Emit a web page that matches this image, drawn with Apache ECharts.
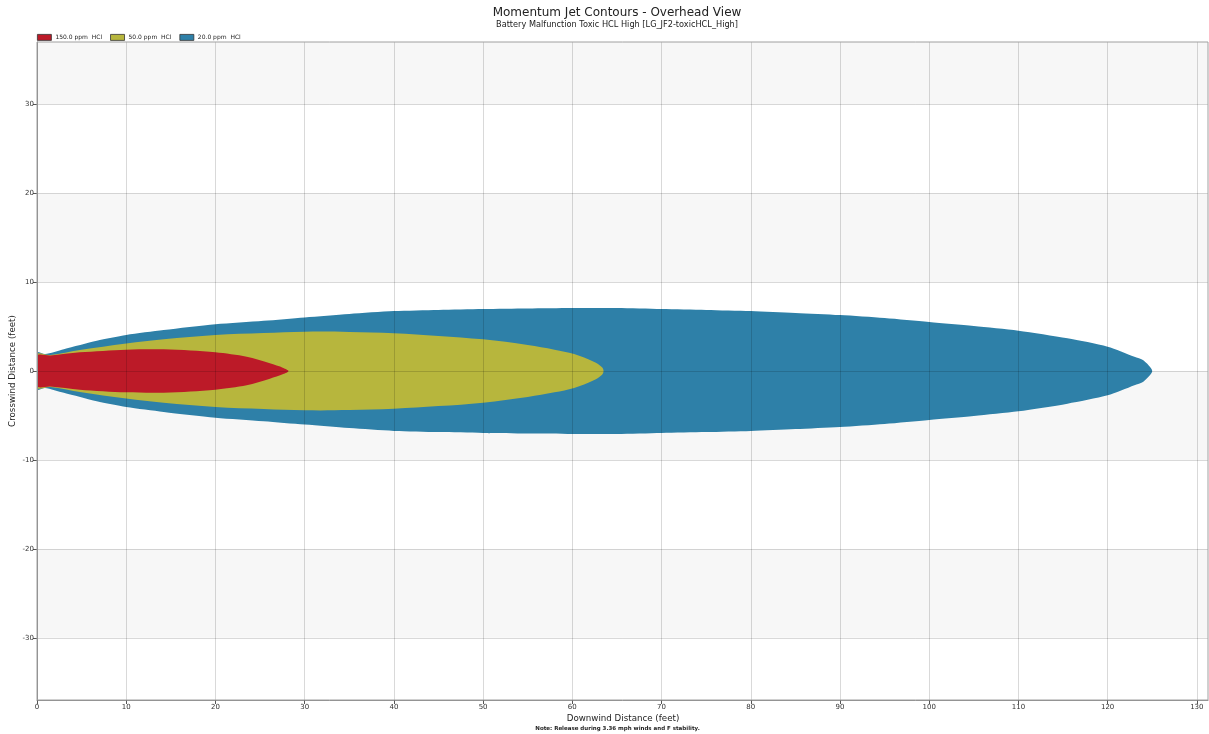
<!DOCTYPE html>
<html>
<head>
<meta charset="utf-8">
<script src="https://cdn.jsdelivr.net/npm/echarts@6/dist/echarts.min.js"></script>
<style>html,body{margin:0;padding:0;background:#fff;}#c{width:1209px;height:734px;}</style>
</head>
<body>
<div id="c"></div>
<script>
// ---- data (half-widths of each contour above the centreline, feet) ----
var seriesNames = ['150.0 ppm  HCl', '50.0 ppm  HCl', '20.0 ppm  HCl'];

var redX = [0, 1.5, 4.8, 10, 14.2, 17.2, 20, 23.5, 26.1, 27.6, 28.2];
var redY = [1.7, 1.75, 2.1, 2.4, 2.44, 2.3, 2.1, 1.6, 0.86, 0.35, 0];

var yellowX = [0, 1.5, 4.8, 10, 14.2, 20, 25.4, 30, 35, 40, 45, 50, 55, 58, 60.2, 62.4, 63.3, 63.5];
var yellowY = [1.87, 1.8, 2.36, 3.1, 3.56, 4.04, 4.27, 4.42, 4.4, 4.25, 3.95, 3.56, 2.92, 2.4, 1.91, 1.05, 0.45, 0];

var blueX = [0, 0.9, 3, 6.7, 10, 14.2, 20, 25.4, 30, 35, 40, 45, 50, 55, 60, 65, 70, 75, 80, 85, 90, 95, 100, 105, 110, 115.5, 120, 123, 124, 125];
var blueY = [2.1, 1.9, 2.45, 3.4, 4.05, 4.6, 5.25, 5.65, 6.03, 6.42, 6.74, 6.87, 6.97, 7.03, 7.08, 7.08, 6.97, 6.87, 6.74, 6.53, 6.29, 5.95, 5.5, 5.05, 4.53, 3.67, 2.73, 1.6, 1.2, 0];

var xTickLabels = [0, 10, 20, 30, 40, 50, 60, 70, 80, 90, 100, 110, 120, 130];
var yTickLabels = [-30, -20, -10, 0, 10, 20, 30];
var bandEdges = [-37, -30, -20, -10, 0, 10, 20, 30, 37];

var colors = {red: '#BC1A28', yellow: '#B7B63D', blue: '#2E80A8'};
var X_MAX = 131.25, Y_MIN = -37, Y_MAX = 37;
var FONT = 'DejaVu Sans';

function contourSeries(name, xs, ys, color, z, smooth) {
  return {
    type: 'custom',
    name: name,
    z: z,
    clip: true,
    itemStyle: {color: color},
    data: [[0, 0]],
    renderItem: function (params, api) {
      var pts = [];
      for (var i = 0; i < xs.length; i++) pts.push(api.coord([xs[i], ys[i]]));
      for (var j = xs.length - 2; j >= 0; j--) pts.push(api.coord([xs[j], -ys[j]]));
      return {type: 'polygon', shape: {points: pts, smooth: smooth}, style: {fill: color, stroke: null}};
    }
  };
}

var bandData = [];
for (var b = 0; b < bandEdges.length - 1; b++) bandData.push([bandEdges[b], bandEdges[b + 1], b]);

var chart = echarts.init(document.getElementById('c'), null, {renderer: 'canvas'});
chart.setOption({
  animation: false,
  backgroundColor: '#ffffff',
  textStyle: {fontFamily: FONT},
  grid: {left: 37, right: 1, top: 42, bottom: 34, show: true, borderColor: '#a0a0a0', borderWidth: 1, backgroundColor: 'transparent', z: 4},
  legend: {
    left: 37, top: 34, padding: 0, itemWidth: 14, itemHeight: 6, itemGap: 8, icon: 'rect',
    data: seriesNames, selectedMode: false,
    itemStyle: {borderColor: '#333', borderWidth: 0.8},
    textStyle: {fontSize: 6, color: '#222', fontFamily: FONT, padding: [0, 0, 0, -1]}
  },
  xAxis: {
    type: 'value', min: 0, max: X_MAX, interval: 10, z: 3,
    axisLine: {show: true, onZero: false, lineStyle: {color: '#888', width: 1}},
    axisTick: {show: true, length: 4, customValues: xTickLabels, lineStyle: {color: '#555'}},
    axisLabel: {fontSize: 7, color: '#333', margin: 4, fontFamily: FONT, customValues: xTickLabels,
      formatter: function (v) { return xTickLabels.indexOf(v) >= 0 ? String(v) : ''; }},
    splitLine: {show: true, lineStyle: {color: 'rgba(0,0,0,0.15)', width: 1}}
  },
  yAxis: {
    type: 'value', min: Y_MIN, max: Y_MAX, splitNumber: 7, z: 3,
    axisLine: {show: true, onZero: false, lineStyle: {color: '#888', width: 1}},
    axisTick: {show: true, length: 4, customValues: yTickLabels, lineStyle: {color: '#555'}},
    axisLabel: {fontSize: 7, color: '#333', margin: 3, fontFamily: FONT, customValues: yTickLabels,
      formatter: function (v) { return yTickLabels.indexOf(v) >= 0 ? String(v) : ''; }},
    splitLine: {show: true, lineStyle: {color: 'rgba(0,0,0,0.15)', width: 1}}
  },
  series: [
    {
      type: 'custom', name: 'bands', z: 1, silent: true, clip: true,
      data: bandData,
      renderItem: function (params, api) {
        var y0 = api.value(0), y1 = api.value(1), idx = api.value(2);
        var p0 = api.coord([0, y1]);
        var p1 = api.coord([X_MAX, y0]);
        return {type: 'rect', shape: {x: p0[0], y: p0[1], width: p1[0] - p0[0], height: p1[1] - p0[1]},
          style: {fill: idx % 2 === 0 ? '#ffffff' : '#f7f7f7'}};
      }
    },
    contourSeries(seriesNames[2], blueX, blueY, colors.blue, 2, 0.25),
    contourSeries(seriesNames[1], yellowX, yellowY, colors.yellow, 2, 0.35),
    contourSeries(seriesNames[0], redX, redY, colors.red, 2, 0.3)
  ],
  graphic: [
    {type: 'text', x: 617, y: 12.5, style: {text: 'Momentum Jet Contours - Overhead View', fontFamily: FONT, fontSize: 12, fill: '#222', align: 'center', verticalAlign: 'middle'}},
    {type: 'text', x: 617, y: 24.5, style: {text: 'Battery Malfunction Toxic HCL High [LG_JF2-toxicHCL_High]', fontFamily: FONT, fontSize: 8.2, fill: '#222', align: 'center', verticalAlign: 'middle'}},
    {type: 'text', x: 623, y: 718.5, style: {text: 'Downwind Distance (feet)', fontFamily: FONT, fontSize: 8.7, fill: '#222', align: 'center', verticalAlign: 'middle'}},
    {type: 'text', x: 617.5, y: 729, style: {text: 'Note: Release during 3.36 mph winds and F stability.', fontFamily: FONT, fontSize: 5.5, fontWeight: 'bold', fill: '#222', align: 'center', verticalAlign: 'middle'}},
    {type: 'text', x: 13, y: 371, rotation: Math.PI / 2, style: {text: 'Crosswind Distance (feet)', fontFamily: FONT, fontSize: 8.7, fill: '#222', align: 'center', verticalAlign: 'middle'}}
  ]
});
</script>
</body>
</html>
